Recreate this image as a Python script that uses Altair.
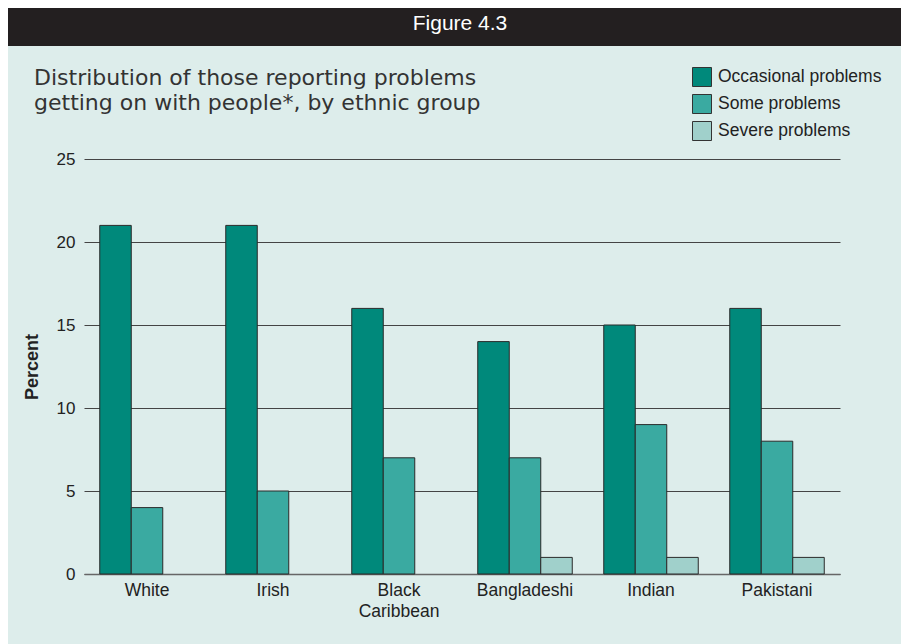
import altair as alt
import pandas as pd

groups = ["White", "Irish", "Black Caribbean", "Bangladeshi", "Indian", "Pakistani"]
series = ["Occasional problems", "Some problems", "Severe problems"]
occasional = [21, 21, 16, 14, 15, 16]
some = [4, 5, 7, 7, 9, 8]
severe = [None, None, None, 1, 1, 1]
colors = ["#00897B", "#3AAAA1", "#A0D0CB"]

rows = []
for i, g in enumerate(groups):
    for s, vals in zip(series, [occasional, some, severe]):
        if vals[i] is not None:
            rows.append({"group": g, "series": s, "value": vals[i]})
df = pd.DataFrame(rows)

W, H = 756, 415
PL, PT = 84, 159
CW, CH = 901, 644

bars = alt.Chart(df).mark_bar(stroke="#2a2a2a", strokeWidth=1).encode(
    x=alt.X("group:N", sort=groups,
            scale=alt.Scale(paddingInner=0.25, paddingOuter=0.125),
            axis=alt.Axis(title=None, labelAngle=0, ticks=False, domain=True,
                          domainColor="#666", domainWidth=1.5,
                          labelFont="Liberation Sans", labelFontSize=17.5,
                          labelColor="#222", labelPadding=7, labelLineHeight=21,
                          labelExpr="datum.label == 'Black Caribbean' ? ['Black', 'Caribbean'] : datum.label")),
    xOffset=alt.XOffset("series:N", sort=series,
                        scale=alt.Scale(domain=series, paddingInner=0, paddingOuter=0)),
    y=alt.Y("value:Q",
            scale=alt.Scale(domain=[0, 25], nice=False),
            axis=alt.Axis(title="Percent", values=[0, 5, 10, 15, 20, 25], grid=True,
                          gridColor="#444", gridWidth=1, domain=False, ticks=False,
                          labelFont="Liberation Sans", labelFontSize=17, labelColor="#222",
                          labelPadding=9,
                          titleFont="Liberation Sans", titleFontSize=18, titleFontWeight="bold",
                          titleColor="#222", titleX=-52, titleY=H / 2, titleAlign="center",
                          titleBaseline="middle", titleAngle=-90)),
    color=alt.Color("series:N", sort=series,
                    scale=alt.Scale(domain=series, range=colors),
                    legend=alt.Legend(title=None, orient="none", legendX=608, legendY=-92,
                                      symbolType="square", symbolSize=361,
                                      symbolStrokeColor="#333", symbolStrokeWidth=1,
                                      symbolOpacity=1, rowPadding=3, labelOffset=6,
                                      labelLimit=0,
                                      labelFont="Liberation Sans", labelFontSize=17.5,
                                      labelColor="#222")),
)

one = pd.DataFrame({"k": [0]})

white_top = alt.Chart(one).mark_rect(color="white").encode(
    x=alt.value(-PL), x2=alt.value(CW - PL), y=alt.value(-PT), y2=alt.value(8 - PT))
white_left = alt.Chart(one).mark_rect(color="white").encode(
    x=alt.value(-PL), x2=alt.value(8 - PL), y=alt.value(-PT), y2=alt.value(CH - PT))
header = alt.Chart(one).mark_rect(color="#231F20").encode(
    x=alt.value(8 - PL), x2=alt.value(CW - PL), y=alt.value(8 - PT), y2=alt.value(46 - PT))

header_text = alt.Chart(pd.DataFrame({"t": ["Figure 4.3"]})).mark_text(
    font="Liberation Sans", fontSize=21, color="white", align="center", baseline="alphabetic"
).encode(text="t:N", x=alt.value(460 - PL), y=alt.value(30 - PT))

title_lines = ["Distribution of those reporting problems",
               "getting on with people*, by ethnic group"]
title1 = alt.Chart(pd.DataFrame({"t": [title_lines[0]]})).mark_text(
    font="DejaVu Sans", fontSize=22, color="#333", align="left", baseline="alphabetic"
).encode(text="t:N", x=alt.value(34 - PL), y=alt.value(85 - PT))
title2 = alt.Chart(pd.DataFrame({"t": [title_lines[1]]})).mark_text(
    font="DejaVu Sans", fontSize=22, color="#333", align="left", baseline="alphabetic"
).encode(text="t:N", x=alt.value(34 - PL), y=alt.value(110 - PT))

chart = alt.layer(white_top, white_left, header, header_text, title1, title2, bars).properties(
    width=W, height=H,
    autosize=alt.AutoSizeParams(type="none"),
    padding={"left": PL, "top": PT, "right": CW - PL - W, "bottom": CH - PT - H},
    background="#DDEDEB",
).configure_view(stroke=None)

chart.save("out.html", embed_options={"renderer": "svg", "actions": False})
